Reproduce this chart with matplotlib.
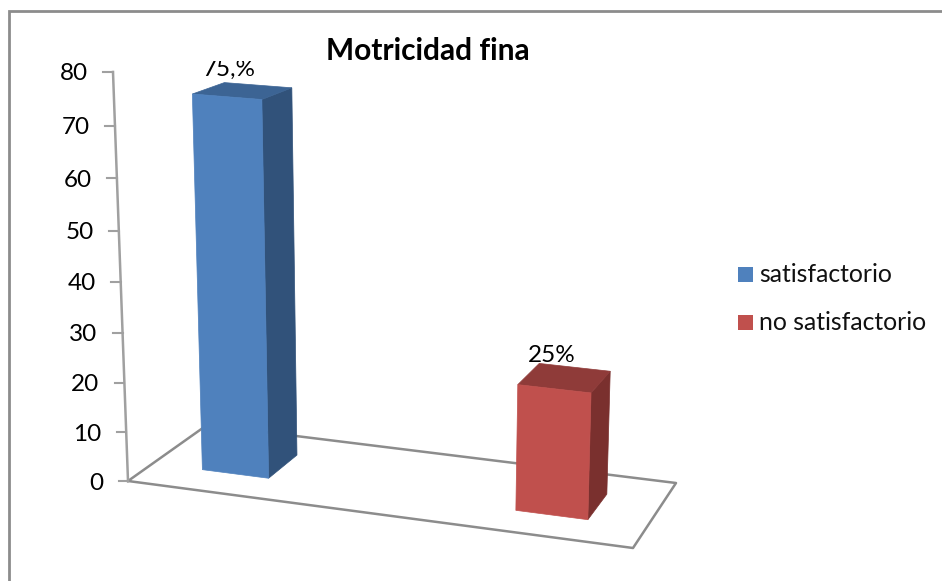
import matplotlib
matplotlib.use("Agg")
import matplotlib.pyplot as plt
import numpy as np
from matplotlib.patches import Rectangle
from matplotlib.transforms import Bbox

plt.rcParams["font.family"] = ["Lato", "DejaVu Sans"]

title = "Motricidad fina"
categories = ["satisfactorio", "no satisfactorio"]
values = [75, 25]
bar_labels = ["75,%", "25%"]
ticks = [0, 10, 20, 30, 40, 50, 60, 70, 80]

GRAY = "#8c8c8c"
FRONT = ["#4f81bd", "#c0504d"]
SIDE = ["#31527a", "#7a302e"]
TOP = ["#3c6494", "#8f3b39"]

# floor corners in pixels: (x=0,d=0), (x=2,d=0), (x=2,d=1), (x=0,d=1)
FLOOR = [(128, 481), (633, 548), (676, 483), (207, 425)]
VANISH = (402.0, 7950.0)  # where verticals converge
ZK = -0.000649
BAR_POS = [0.352, 1.635]


def floor_matrix(corners):
    """Homography from the unit floor square to pixels."""
    src = [(0, 0), (1, 0), (1, 1), (0, 1)]
    A, b = [], []
    for (u, v), (px, py) in zip(src, corners):
        A.append([u, v, 1, 0, 0, 0, -u * px, -v * px])
        A.append([0, 0, 0, u, v, 1, -u * py, -v * py])
        b += [px, py]
    h = np.linalg.solve(np.array(A, float), np.array(b, float))
    return np.append(h, 1).reshape(3, 3)


H = floor_matrix(FLOOR)


def project(x, d, z):
    """x: category position 0-2, d: depth 0-1, z: value."""
    p = H @ np.array([x / 2, d, 1.0])
    p = p + z * ZK * np.array([VANISH[0], VANISH[1], 1.0])
    return p[0] / p[2], p[1] / p[2]


def face(ax, pts, color, zorder=3):
    xy = [project(*p) for p in pts]
    ax.fill([q[0] for q in xy], [q[1] for q in xy], color=color, lw=0.5, zorder=zorder)


fig = plt.figure(figsize=(9.42, 5.81), dpi=100)
ax = fig.add_axes([0, 0, 1, 1])
ax.set_xlim(0, 942)
ax.set_ylim(581, 0)
ax.axis("off")

# outer frame, only top and left are visible
ax.plot([9, 9, 942], [581, 11, 11], color=GRAY, lw=2, solid_joinstyle="miter")

# floor
fx = [c[0] for c in FLOOR] + [FLOOR[0][0]]
fy = [c[1] for c in FLOOR] + [FLOOR[0][1]]
ax.plot(fx, fy, color=GRAY, lw=1.8, zorder=1)

# value axis
x0, y0 = project(0, 0, 0)
x1, y1 = project(0, 0, ticks[-1])
ax.plot([x0, x1], [y0, y1], color="#a0a0a0", lw=1.8, zorder=1)
for t in ticks:
    tx, ty = project(0, 0, t)
    ax.plot([tx - 9.5, tx], [ty, ty], color="#a0a0a0", lw=1.5, zorder=1)
    ax.text(tx - 25, ty + 2, str(t), ha="right", va="center", fontsize=17.5, color="black")

# bars
width = 0.28
depth = 0.4
for i, val in enumerate(values):
    xa = BAR_POS[i] - width / 2
    xb = BAR_POS[i] + width / 2
    da = 0.5 - depth / 2
    db = 0.5 + depth / 2
    face(ax, [(xa, da, 0), (xb, da, 0), (xb, da, val), (xa, da, val)], FRONT[i], 4)
    face(ax, [(xb, da, 0), (xb, db, 0), (xb, db, val), (xb, da, val)], SIDE[i], 3)
    face(ax, [(xa, da, val), (xb, da, val), (xb, db, val), (xa, db, val)], TOP[i], 3)
    cx, cy = project(BAR_POS[i], 0.5, val)
    lab = ax.text(cx - 13, cy - 22, bar_labels[i], ha="center", va="center",
                  fontsize=17.5, color="black", zorder=2)
    # the top of the upper label is cut off in the original
    lab.set_clip_box(Bbox([[0, 0], [942, 581 - 61]]))
    lab.set_clip_on(True)

ax.text(427.5, 51, title, ha="center", va="center", fontsize=21.5, fontweight="bold")

# legend
for i, cat in enumerate(categories):
    ly = 274.5 + 48 * i
    ax.add_patch(Rectangle((738, ly - 7.5), 15, 15, color=FRONT[i], lw=0))
    ax.text(759, ly, cat, ha="left", va="center", fontsize=17.8, color="#111111")

fig.savefig("out.png", dpi=100)
plt.close(fig)
